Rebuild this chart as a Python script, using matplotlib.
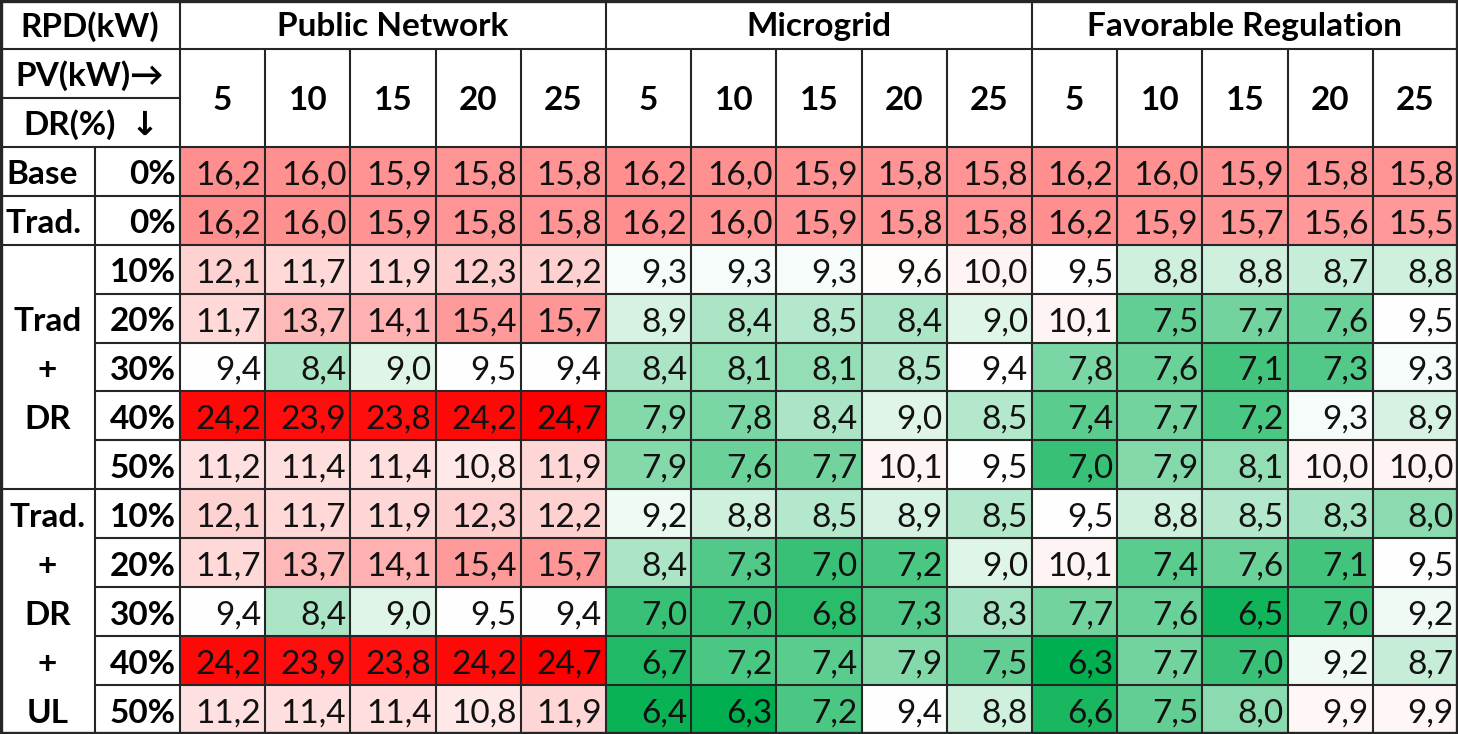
import matplotlib.pyplot as plt
import numpy as np
from matplotlib.colors import LinearSegmentedColormap, TwoSlopeNorm

plt.rcParams['font.family'] = ['Lato', 'DejaVu Sans']

# table content
groups = ["Public Network", "Microgrid", "Favorable Regulation"]
pv_levels = ["5", "10", "15", "20", "25"]
row_pct = ["0%", "0%", "10%", "20%", "30%", "40%", "50%", "10%", "20%", "30%", "40%", "50%"]

public_network = [
    [16.2, 16.0, 15.9, 15.8, 15.8],
    [16.2, 16.0, 15.9, 15.8, 15.8],
    [12.1, 11.7, 11.9, 12.3, 12.2],
    [11.7, 13.7, 14.1, 15.4, 15.7],
    [9.4, 8.4, 9.0, 9.5, 9.4],
    [24.2, 23.9, 23.8, 24.2, 24.7],
    [11.2, 11.4, 11.4, 10.8, 11.9],
    [12.1, 11.7, 11.9, 12.3, 12.2],
    [11.7, 13.7, 14.1, 15.4, 15.7],
    [9.4, 8.4, 9.0, 9.5, 9.4],
    [24.2, 23.9, 23.8, 24.2, 24.7],
    [11.2, 11.4, 11.4, 10.8, 11.9],
]
microgrid = [
    [16.2, 16.0, 15.9, 15.8, 15.8],
    [16.2, 16.0, 15.9, 15.8, 15.8],
    [9.3, 9.3, 9.3, 9.6, 10.0],
    [8.9, 8.4, 8.5, 8.4, 9.0],
    [8.4, 8.1, 8.1, 8.5, 9.4],
    [7.9, 7.8, 8.4, 9.0, 8.5],
    [7.9, 7.6, 7.7, 10.1, 9.5],
    [9.2, 8.8, 8.5, 8.9, 8.5],
    [8.4, 7.3, 7.0, 7.2, 9.0],
    [7.0, 7.0, 6.8, 7.3, 8.3],
    [6.7, 7.2, 7.4, 7.9, 7.5],
    [6.4, 6.3, 7.2, 9.4, 8.8],
]
favorable = [
    [16.2, 16.0, 15.9, 15.8, 15.8],
    [16.2, 15.9, 15.7, 15.6, 15.5],
    [9.5, 8.8, 8.8, 8.7, 8.8],
    [10.1, 7.5, 7.7, 7.6, 9.5],
    [7.8, 7.6, 7.1, 7.3, 9.3],
    [7.4, 7.7, 7.2, 9.3, 8.9],
    [7.0, 7.9, 8.1, 10.0, 10.0],
    [9.5, 8.8, 8.5, 8.3, 8.0],
    [10.1, 7.4, 7.6, 7.1, 9.5],
    [7.7, 7.6, 6.5, 7.0, 9.2],
    [6.3, 7.7, 7.0, 9.2, 8.7],
    [6.6, 7.5, 8.0, 9.9, 9.9],
]

data = np.hstack([np.array(public_network), np.array(microgrid), np.array(favorable)])

# layout in pixels
W, H = 1458, 734
n_rows = 15
row_h = H / n_rows
x_edges = np.concatenate([[0, 95, 180], 180 + (W - 180) / 15 * np.arange(1, 16)])
y_edges = np.arange(n_rows + 1) * row_h

fig = plt.figure(figsize=(W / 100, H / 100), dpi=100)
ax = fig.add_axes([0, 0, 1, 1])
ax.set_xlim(0, W)
ax.set_ylim(H, 0)
ax.axis("off")

# excel-like 3 colour scale: green - white - red
cmap = LinearSegmentedColormap.from_list(
    "gwr", [(0 / 255, 176 / 255, 80 / 255), (1, 1, 1), (1, 0, 0)]
)
norm = TwoSlopeNorm(vmin=data.min(), vcenter=np.median(data), vmax=data.max())
ax.pcolormesh(x_edges[2:], y_edges[3:], data, cmap=cmap, norm=norm)

fs = 24
lc = "#262626"
lw = 1.5

# values
for i in range(data.shape[0]):
    for j in range(data.shape[1]):
        yc = (y_edges[i + 3] + y_edges[i + 4]) / 2 + 1
        ax.text(x_edges[j + 3] - 4, yc, f"{data[i, j]:.1f}".replace(".", ","),
                ha="right", va="center_baseline", fontsize=fs, color="#111111")

# header: group names
for g, name in enumerate(groups):
    x0 = x_edges[2 + 5 * g]
    x1 = x_edges[2 + 5 * (g + 1)]
    ax.text((x0 + x1) / 2, row_h / 2, name, ha="center", va="center_baseline",
            fontsize=fs, fontweight="bold")
    for k, pv in enumerate(pv_levels):
        c = 2 + 5 * g + k
        ax.text((x_edges[c] + x_edges[c + 1]) / 2, 2 * row_h, pv, ha="center",
                va="center_baseline", fontsize=fs, fontweight="bold")

# header: left labels
ax.text(x_edges[2] / 2, row_h / 2, "RPD(kW)", ha="center", va="center_baseline",
        fontsize=fs, fontweight="bold")
ax.text(x_edges[2] / 2, 1.5 * row_h, "PV(kW)→", ha="center", va="center_baseline",
        fontsize=fs, fontweight="bold")
ax.text(x_edges[2] / 2 - 20, 2.5 * row_h, "DR(%)", ha="center", va="center_baseline",
        fontsize=fs, fontweight="bold")
ax.text(x_edges[2] - 35, 2.5 * row_h, "↓", ha="center", va="center_baseline",
        fontsize=fs, fontweight="bold", family=["DejaVu Sans"])

# row labels
for i, p in enumerate(row_pct):
    ax.text(x_edges[2] - 4, (i + 3.5) * row_h + 1, p, ha="right", va="center_baseline",
            fontsize=fs, fontweight="bold")
ax.text(6, 3.5 * row_h + 1, "Base", ha="left", va="center_baseline", fontsize=fs, fontweight="bold")
ax.text(6, 4.5 * row_h + 1, "Trad.", ha="left", va="center_baseline", fontsize=fs, fontweight="bold")
for k, word in enumerate(["Trad", "+", "DR"]):
    ax.text(x_edges[1] / 2, (k + 6.5) * row_h + 1, word, ha="center", va="center_baseline",
            fontsize=fs, fontweight="bold")
for k, word in enumerate(["Trad.", "+", "DR", "+", "UL"]):
    ax.text(x_edges[1] / 2, (k + 10.5) * row_h + 1, word, ha="center", va="center_baseline",
            fontsize=fs, fontweight="bold")

# grid lines
# horizontal
ax.hlines(y_edges[1], 0, W, color=lc, lw=lw)
ax.hlines(y_edges[2], 0, x_edges[2], color=lc, lw=lw)
for r in range(3, n_rows):
    if r in (3, 4, 5, 10):
        ax.hlines(y_edges[r], 0, W, color=lc, lw=lw)
    else:
        ax.hlines(y_edges[r], x_edges[1], W, color=lc, lw=lw)
# vertical
ax.vlines(x_edges[1], y_edges[3], H, color=lc, lw=lw)
ax.vlines(x_edges[2], 0, H, color=lc, lw=lw)
for c in range(3, 17):
    if (c - 2) % 5 == 0:
        ax.vlines(x_edges[c], 0, H, color=lc, lw=lw)
    else:
        ax.vlines(x_edges[c], y_edges[1], H, color=lc, lw=lw)
# outer border
ax.plot([1, W - 1, W - 1, 1, 1], [1, 1, H - 1, H - 1, 1], color=lc, lw=2.4)

fig.savefig("out.png", dpi=100)
